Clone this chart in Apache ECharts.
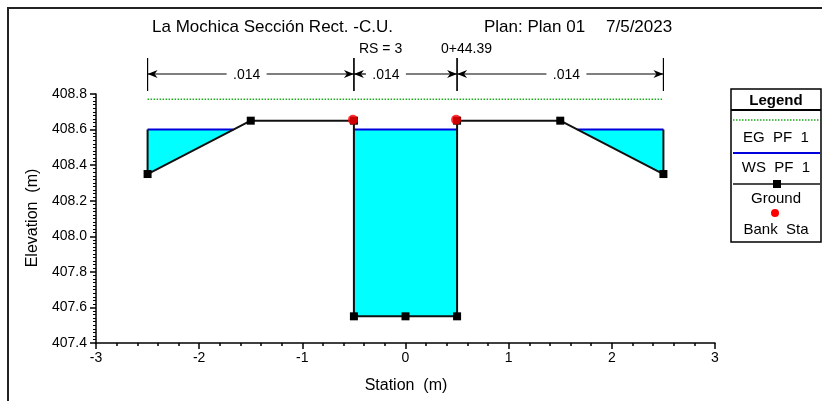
<!DOCTYPE html>
<html><head><meta charset="utf-8">
<script src="https://cdn.jsdelivr.net/npm/echarts@6/dist/echarts.min.js"></script>
<style>html,body{margin:0;padding:0;background:#fff}#c{width:822px;height:401px}</style>
</head><body><div id="c"></div>
<script>
// ---- data ----
const groundSta  = [-2.5, -1.5, -0.5, -0.5, 0, 0.5, 0.5, 1.5, 2.5];
const groundElev = [408.35, 408.65, 408.65, 407.55, 407.55, 407.55, 408.65, 408.65, 408.35];
const bankSta    = [-0.5, 0.5];
const bankElev   = [408.65, 408.65];
const wsElev     = 408.60;
const egElev     = 408.77;
const nSpanFrom  = [-2.5, -0.5, 0.5];
const nSpanTo    = [-0.5, 0.5, 2.5];
const nLabelSta  = [-1.54, -0.19, 1.56];
const nValues    = ['.014', '.014', '.014'];
const xTicks     = [-3, -2, -1, 0, 1, 2, 3];
const yTicks     = [407.4, 407.6, 407.8, 408.0, 408.2, 408.4, 408.6, 408.8];

// ---- water polygons derived from ground & WS ----
function waterPolys(){
  const polys = [];
  let cur = null;
  const pts = groundSta.map((s,i)=>[s, groundElev[i]]);
  if (pts[0][1] < wsElev) cur = [[pts[0][0], wsElev], pts[0]];
  for (let i=0;i<pts.length-1;i++){
    const a = pts[i], b = pts[i+1];
    const aw = a[1] < wsElev, bw = b[1] < wsElev;
    if (aw && bw) { cur.push(b); }
    else if (aw && !bw) {
      const t = (wsElev - a[1])/(b[1]-a[1]);
      cur.push([a[0] + t*(b[0]-a[0]), wsElev]);
      polys.push(cur); cur = null;
    } else if (!aw && bw) {
      const t = (wsElev - a[1])/(b[1]-a[1]);
      cur = [[a[0] + t*(b[0]-a[0]), wsElev], b];
    }
  }
  if (cur) { cur.push([pts[pts.length-1][0], wsElev]); polys.push(cur); }
  return polys;
}
const polys = waterPolys();
const wsLine = [];
polys.forEach(p => { const xs = p.map(q=>q[0]); wsLine.push([Math.min(...xs), wsElev],[Math.max(...xs), wsElev],'-'); });
const wallLine = [];
if (groundElev[0] < wsElev) wallLine.push([groundSta[0], groundElev[0]],[groundSta[0], wsElev],'-');
const L = groundSta.length-1;
if (groundElev[L] < wsElev) wallLine.push([groundSta[L], groundElev[L]],[groundSta[L], wsElev],'-');

const chart = echarts.init(document.getElementById('c'), null, {renderer:'canvas'});
const FONT = 'Liberation Sans, Arial, sans-serif';
const ARROW_Y = 74;
const GREEN = '#1fa81f';

const option = {
  animation:false,
  backgroundColor:'#fff',
  grid:{left:96, right:107, top:94, bottom:58, containLabel:false},
  xAxis:{type:'value', min:xTicks[0], max:xTicks[xTicks.length-1], interval:1,
    axisLine:{onZero:false, lineStyle:{color:'#000', width:1.5}},
    axisTick:{show:true, length:6, lineStyle:{color:'#000', width:1.5}},
    minorTick:{show:true, splitNumber:5, length:3, lineStyle:{color:'#000', width:1.5}},
    splitLine:{show:false},
    axisLabel:{color:'#000', fontFamily:FONT, fontSize:14, margin:8}
  },
  yAxis:{type:'value', min:yTicks[0], max:yTicks[yTicks.length-1], interval:0.2,
    axisLine:{show:true, onZero:false, lineStyle:{color:'#000', width:1.5}},
    axisTick:{show:true, length:6, lineStyle:{color:'#000', width:1.5}},
    minorTick:{show:true, splitNumber:10, length:3, lineStyle:{color:'#000', width:1}},
    splitLine:{show:false},
    axisLabel:{color:'#000', fontFamily:FONT, fontSize:14, margin:9, formatter:v=>v.toFixed(1)}
  },
  series:[
    {type:'custom', name:'water', z:1, data: polys.map((p,i)=>[i]),
      renderItem:(params, api)=>{
        const p = polys[params.dataIndex];
        return {type:'polygon', shape:{points:p.map(q=>api.coord(q))}, style:{fill:'#00ffff', stroke:null}};
      }},
    {type:'line', name:'EG PF 1', z:2, data:[[groundSta[0], egElev],[groundSta[L], egElev]], symbol:'none',
      lineStyle:{color:GREEN, width:1.5, type:[1.5,1.5]}},
    {type:'line', name:'WS PF 1', z:3, data:wsLine, symbol:'none', connectNulls:false,
      lineStyle:{color:'#0000dd', width:2}},
    {type:'line', name:'walls', z:3, data:wallLine, symbol:'none', connectNulls:false,
      lineStyle:{color:'#111', width:2}},
    {type:'line', name:'Ground', z:4, data:groundSta.map((s,i)=>[s, groundElev[i]]),
      symbol:'rect', symbolSize:8, itemStyle:{color:'#000'}, lineStyle:{color:'#111', width:2}},
    {type:'scatter', name:'Bank Sta', z:5, data:bankSta.map((s,i)=>[s, bankElev[i]]),
      symbol:'circle', symbolSize:10, symbolOffset:[-1,-1], itemStyle:{color:'#ff0000'}},
    {type:'custom', name:'n', z:6, clip:false, data:nSpanFrom.map((s,i)=>[s, nSpanTo[i], nLabelSta[i]]),
      renderItem:(params, api)=>{
        const i = params.dataIndex;
        const x1 = api.coord([api.value(0), yTicks[0]])[0];
        const x2 = api.coord([api.value(1), yTicks[0]])[0];
        const xl = api.coord([api.value(2), yTicks[0]])[0];
        const half = 20, ah = 10, aw = 4, y = ARROW_Y;
        const st = {stroke:'#000', lineWidth:1.2};
        return {type:'group', children:[
          {type:'line', shape:{x1:x1, y1:58, x2:x1, y2:91}, style:st},
          {type:'line', shape:{x1:x2, y1:58, x2:x2, y2:91}, style:st},
          {type:'line', shape:{x1:x1, y1:y, x2:xl-half, y2:y}, style:st},
          {type:'line', shape:{x1:xl+half, y1:y, x2:x2, y2:y}, style:st},
          {type:'polygon', shape:{points:[[x1,y],[x1+ah,y-aw],[x1+ah-3,y],[x1+ah,y+aw]]}, style:{fill:'#000'}},
          {type:'polygon', shape:{points:[[x2,y],[x2-ah,y-aw],[x2-ah+3,y],[x2-ah,y+aw]]}, style:{fill:'#000'}},
          {type:'text', x:xl, y:y+1, style:{text:nValues[i], fill:'#000', font:'14px '+FONT, align:'center', verticalAlign:'middle'}}
        ]};
      }}
  ],
  graphic:[
    {type:'line', shape:{x1:7, y1:8, x2:822, y2:8}, style:{stroke:'#222', lineWidth:2}},
    {type:'line', shape:{x1:8, y1:7, x2:8, y2:401}, style:{stroke:'#222', lineWidth:2}},
    {type:'text', x:152, y:27, style:{text:'La Mochica Sección Rect. -C.U.', fill:'#000', font:'17px '+FONT, verticalAlign:'middle'}},
    {type:'text', x:484, y:27, style:{text:'Plan: Plan 01', fill:'#000', font:'17px '+FONT, verticalAlign:'middle'}},
    {type:'text', x:606, y:27, style:{text:'7/5/2023', fill:'#000', font:'17px '+FONT, verticalAlign:'middle'}},
    {type:'text', x:359, y:49, style:{text:'RS = 3', fill:'#000', font:'14px '+FONT, verticalAlign:'middle'}},
    {type:'text', x:441, y:49, style:{text:'0+44.39', fill:'#000', font:'14px '+FONT, verticalAlign:'middle'}},
    {type:'text', x:33, y:218, rotation:Math.PI/2, style:{text:'Elevation  (m)', fill:'#000', font:'16px '+FONT, align:'center', verticalAlign:'middle'}},
    {type:'text', x:406, y:386, style:{text:'Station  (m)', fill:'#000', font:'16px '+FONT, align:'center', verticalAlign:'middle'}},
    // legend box
    {type:'rect', shape:{x:731, y:89, width:90, height:153}, style:{fill:'#fff', stroke:'#000', lineWidth:1.5}},
    {type:'text', x:776, y:101, style:{text:'Legend', fill:'#000', font:'bold 15px '+FONT, align:'center', verticalAlign:'middle'}},
    {type:'line', shape:{x1:731, y1:110, x2:821, y2:110}, style:{stroke:'#000', lineWidth:2}},
    {type:'line', shape:{x1:733, y1:120, x2:820, y2:120}, style:{stroke:GREEN, lineWidth:1.5, lineDash:[1.5,1.5]}},
    {type:'text', x:776, y:138, style:{text:'EG  PF  1', fill:'#000', font:'15px '+FONT, align:'center', verticalAlign:'middle'}},
    {type:'line', shape:{x1:733, y1:153, x2:820, y2:153}, style:{stroke:'#0000dd', lineWidth:2}},
    {type:'text', x:776, y:168, style:{text:'WS  PF  1', fill:'#000', font:'15px '+FONT, align:'center', verticalAlign:'middle'}},
    {type:'line', shape:{x1:733, y1:184, x2:820, y2:184}, style:{stroke:'#111', lineWidth:1.5}},
    {type:'rect', shape:{x:773, y:180, width:8, height:8}, style:{fill:'#000'}},
    {type:'text', x:776, y:199, style:{text:'Ground', fill:'#000', font:'15px '+FONT, align:'center', verticalAlign:'middle'}},
    {type:'circle', shape:{cx:775, cy:213, r:4}, style:{fill:'#ff0000'}},
    {type:'text', x:776, y:230, style:{text:'Bank  Sta', fill:'#000', font:'15px '+FONT, align:'center', verticalAlign:'middle'}}
  ]
};
chart.setOption(option);
</script></body></html>
